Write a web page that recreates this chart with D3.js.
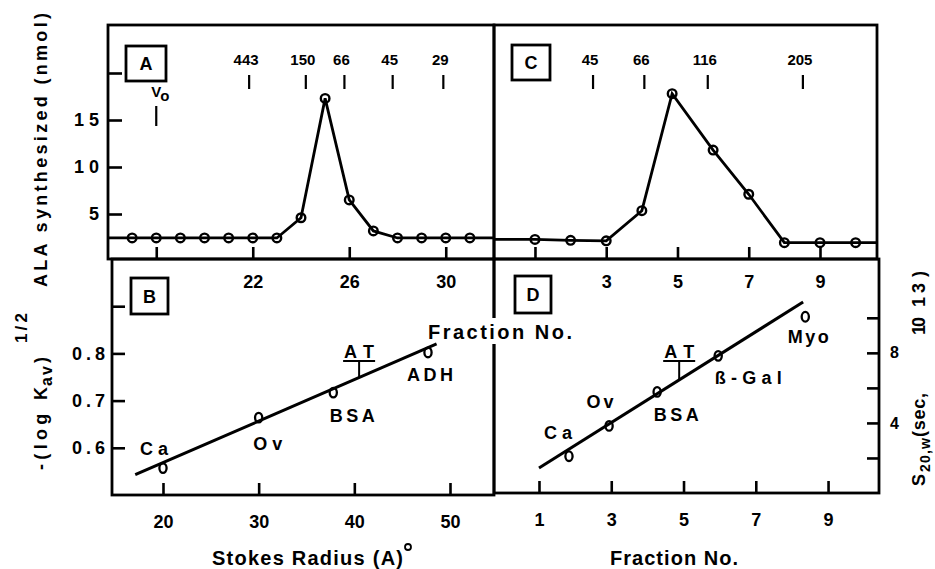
<!DOCTYPE html>
<html>
<head>
<meta charset="utf-8">
<script src="https://cdn.jsdelivr.net/npm/d3@7"></script>
<style>
  body { margin: 0; background: #fff; }
  text { font-family: 'Liberation Sans', Arial, sans-serif; font-weight: bold; fill: #000; }
</style>
</head>
<body>
<svg id="canvas"></svg>
<script>
// ---- panel A: ALA synthesized per fraction (gel filtration)
let fractionsA = [17, 18, 19, 20, 21, 22, 23, 24, 25, 26, 27, 28, 29, 30, 31]
let alaA = [2.45, 2.45, 2.45, 2.45, 2.45, 2.45, 2.45, 4.6, 17.3, 6.5, 3.2, 2.45, 2.45, 2.45, 2.45]
let markerPosA = [21.85, 24.2, 25.8, 27.8, 29.9]
let markerLabelsA = ['443', '150', '66', '45', '29']
let voFraction = 18
let ticksAy = [5, 10, 15, 20]
let tickLabelsAy = ['5', '1 0', '1 5', '']
let ticksAx = [18, 22, 26, 30]
let tickLabelsAx = ['', '22', '26', '30']

// ---- panel C: ALA synthesized per fraction (sucrose gradient)
let fractionsC = [1, 2, 3, 4, 4.85, 6, 7, 8, 9, 10]
let alaC = [2.3, 2.2, 2.15, 5.35, 17.8, 11.8, 7.1, 1.95, 1.95, 1.95]
let markerPosC = [2.63, 4.07, 5.85, 8.52]
let markerLabelsC = ['45', '66', '116', '205']
let ticksCx = [1, 3, 5, 7, 9]
let tickLabelsCx = ['', '3', '5', '7', '9']

// ---- panel B: -(log Kav)^1/2 vs Stokes radius
let stokesB = [20, 30, 37.8, 47.7]
let kavB = [0.557, 0.664, 0.717, 0.802]
let namesB = ['Ca', 'Ov', 'BSA', 'ADH']
let fitStokesB = [17.1, 48.6]
let fitKavB = [0.543, 0.820]
let atStokes = 40.5
let ticksBy = [0.6, 0.7, 0.8, 0.9]
let tickLabelsBy = ['0.6', '0.7', '0.8', '']
let ticksBx = [20, 30, 40, 50]

// ---- panel D: S20,w vs fraction
let fractionsD = [1.83, 2.94, 4.27, 5.96, 8.37]
let sedD = [2.1, 3.83, 5.77, 7.83, 10.06]
let namesD = ['Ca', 'Ov', 'BSA', 'ß-Gal', 'Myo']
let fitFractionD = [1.0, 8.31]
let fitSedD = [1.43, 10.9]
let atFraction = 4.88
let ticksDx = [1, 3, 5, 7, 9]
let ticksDy = [2, 4, 6, 8, 10]
let tickLabelsDy = ['', '4', '', '8', '']

// label placement (pixels relative to point) and widths
let offB = [[-9, -20], [9, 26], [19, 23], [2, 22]]
let widB = [28, 29, 45, 46]
let offD = [[-11, -24], [-9, -24], [19, 23], [30, 22], [3, 20]]
let widD = [28, 27, 45, 67, 41]

let width = 935
let height = 569
let canvas = d3.select('#canvas').attr('width', width).attr('height', height)

let xA = d3.scaleLinear().domain([16, 32]).range([108, 494])
let yA = d3.scaleLinear().domain([0, 20]).range([261, 73])
let xC = d3.scaleLinear().domain([-0.15, 10.6]).range([494, 877])
let xB = d3.scaleLinear().domain([14.67, 54.6]).range([112, 494])
let yB = d3.scaleLinear().domain([0.5, 1.0]).range([495, 259])
let xD = d3.scaleLinear().domain([-0.245, 10.41]).range([494, 879])
let yD = d3.scaleLinear().domain([0, 13.3]).range([493, 260])

let frame = (x0, y0, x1, y1) => {
    canvas.append('rect')
        .attr('x', x0).attr('y', y0)
        .attr('width', x1 - x0).attr('height', y1 - y0)
        .attr('fill', 'none').attr('stroke', '#000').attr('stroke-width', 2.8)
}

let styleAxis = (g, size) => {
    g.select('.domain').remove()
    g.attr('font-family', null).attr('font-size', size).attr('font-weight', 'bold')
    g.selectAll('line').attr('stroke-width', 2.6)
}

let drawFrames = () => {
    frame(108, 25, 494, 259)
    frame(494, 25, 877, 259)
    frame(112, 259, 494, 495)
    frame(494, 259, 879, 493)
}

let drawAxes = () => {
    let axAy = d3.axisLeft(yA).tickValues(ticksAy)
        .tickFormat((d, i) => tickLabelsAy[i]).tickSize(-14).tickSizeOuter(0).tickPadding(9)
    canvas.append('g').attr('transform', 'translate(108,0)').call(axAy).call(g => styleAxis(g, 18))

    let axAx = d3.axisBottom(xA).tickValues(ticksAx)
        .tickFormat((d, i) => tickLabelsAx[i]).tickSize(-12).tickSizeOuter(0).tickPadding(16)
    canvas.append('g').attr('transform', 'translate(0,259)').call(axAx).call(g => styleAxis(g, 18))

    let axCx = d3.axisBottom(xC).tickValues(ticksCx)
        .tickFormat((d, i) => tickLabelsCx[i]).tickSize(-12).tickSizeOuter(0).tickPadding(16)
    canvas.append('g').attr('transform', 'translate(0,259)').call(axCx).call(g => styleAxis(g, 18))

    let axBy = d3.axisLeft(yB).tickValues(ticksBy)
        .tickFormat((d, i) => tickLabelsBy[i]).tickSize(-13).tickSizeOuter(0).tickPadding(3)
    canvas.append('g').attr('transform', 'translate(112,0)').call(axBy)
        .call(g => styleAxis(g, 18))
        .selectAll('text').attr('letter-spacing', 4)

    let axBx = d3.axisBottom(xB).tickValues(ticksBx)
        .tickFormat(d => d).tickSize(-12).tickSizeOuter(0).tickPadding(20)
    canvas.append('g').attr('transform', 'translate(0,495)').call(axBx).call(g => styleAxis(g, 18))

    let axDx = d3.axisBottom(xD).tickValues(ticksDx)
        .tickFormat(d => d).tickSize(-12).tickSizeOuter(0).tickPadding(20)
    canvas.append('g').attr('transform', 'translate(0,493)').call(axDx).call(g => styleAxis(g, 18))

    let axDy = d3.axisRight(yD).tickValues(ticksDy)
        .tickFormat((d, i) => tickLabelsDy[i]).tickSize(-12).tickSizeOuter(0).tickPadding(11)
    canvas.append('g').attr('transform', 'translate(879,0)').call(axDy).call(g => styleAxis(g, 16))
}

let drawProfile = (xs, fr, vals) => {
    let pts = fr.map((f, i) => [f, vals[i]])
    let dom = xs.domain()
    let full = [[dom[0], vals[0]]].concat(pts, [[dom[1], vals[vals.length - 1]]])
    canvas.append('path')
        .attr('d', d3.line().x(d => xs(d[0])).y(d => yA(d[1]))(full))
        .attr('fill', 'none').attr('stroke', '#000').attr('stroke-width', 2.8)
    canvas.append('g').selectAll('circle')
        .data(pts).enter().append('circle')
        .attr('cx', d => xs(d[0])).attr('cy', d => yA(d[1]))
        .attr('r', 4.3)
        .attr('fill', 'none').attr('stroke', '#000').attr('stroke-width', 2.4)
}

let drawMarkers = (xs, pos, labels) => {
    let g = canvas.append('g')
    g.selectAll('line').data(pos).enter().append('line')
        .attr('x1', d => xs(d)).attr('x2', d => xs(d))
        .attr('y1', 75).attr('y2', 89)
        .attr('stroke', '#000').attr('stroke-width', 2.2)
    g.selectAll('text').data(pos).enter().append('text')
        .attr('x', d => xs(d) - 3).attr('y', 65)
        .attr('text-anchor', 'middle').attr('font-size', 15)
        .text((d, i) => labels[i])
}

let drawVo = () => {
    let x = xA(voFraction)
    canvas.append('line').attr('x1', x).attr('x2', x).attr('y1', 106).attr('y2', 126)
        .attr('stroke', '#000').attr('stroke-width', 2.2)
    let t = canvas.append('text').attr('x', x - 5).attr('y', 97).attr('font-size', 15)
    t.append('tspan').text('V')
    t.append('tspan').attr('dy', 4).text('o')
}

let panelBox = (x0, y0, x1, y1, letter) => {
    frame(x0, y0, x1, y1)
    canvas.append('text')
        .attr('x', (x0 + x1) / 2).attr('y', (y0 + y1) / 2 + 6.5)
        .attr('text-anchor', 'middle').attr('font-size', 18)
        .text(letter)
}

let drawCalibration = (xs, ys, xv, yv, names, fitX, fitY, atX, off, wid) => {
    canvas.append('line')
        .attr('x1', xs(fitX[0])).attr('y1', ys(fitY[0]))
        .attr('x2', xs(fitX[1])).attr('y2', ys(fitY[1]))
        .attr('stroke', '#000').attr('stroke-width', 3)
    canvas.append('g').selectAll('ellipse')
        .data(xv).enter().append('ellipse')
        .attr('cx', d => xs(d)).attr('cy', (d, i) => ys(yv[i]))
        .attr('rx', 3.6).attr('ry', 4.8)
        .attr('fill', 'none').attr('stroke', '#000').attr('stroke-width', 2.3)
    canvas.append('g').selectAll('text')
        .data(names).enter().append('text')
        .attr('x', (d, i) => xs(xv[i]) + off[i][0])
        .attr('y', (d, i) => ys(yv[i]) + off[i][1] + 6.5)
        .attr('text-anchor', 'middle').attr('font-size', 18)
        .attr('textLength', (d, i) => wid[i]).attr('lengthAdjust', 'spacing')
        .text(d => d)
    // AT marker
    let ax = xs(atX)
    let t = (atX - fitX[0]) / (fitX[1] - fitX[0])
    let lineY = ys(fitY[0] + t * (fitY[1] - fitY[0]))
    canvas.append('text').attr('x', ax).attr('y', 358)
        .attr('text-anchor', 'middle').attr('font-size', 18)
        .attr('textLength', 30).attr('lengthAdjust', 'spacing').text('AT')
    canvas.append('line').attr('x1', ax - 16).attr('x2', ax + 16).attr('y1', 361).attr('y2', 361)
        .attr('stroke', '#000').attr('stroke-width', 2)
    canvas.append('line').attr('x1', ax).attr('x2', ax).attr('y1', 361).attr('y2', lineY)
        .attr('stroke', '#000').attr('stroke-width', 2)
}

// rotated text piece, read bottom to top
let vtext = (str, bx, yBottom, yTop, size) => {
    canvas.append('text')
        .attr('transform', 'translate(' + bx + ',' + yBottom + ') rotate(-90)')
        .attr('font-size', size)
        .attr('textLength', yBottom - yTop).attr('lengthAdjust', 'spacing')
        .text(str)
}

let htext = (str, x0, x1, y, size) => {
    return canvas.append('text')
        .attr('x', x0).attr('y', y).attr('font-size', size)
        .attr('textLength', x1 - x0).attr('lengthAdjust', 'spacing')
        .text(str)
}

let drawTitles = () => {
    vtext('ALA synthesized (nmol)', 47, 287, 13, 18)

    vtext('-(log K', 47, 470, 387, 18)
    vtext('av', 52, 386, 366, 16)
    vtext(')', 47, 363, 355, 18)
    vtext('1/2', 27, 343, 313, 17)

    vtext('S', 925, 486, 471, 18)
    vtext('20,w', 930, 472, 438, 14)
    vtext('(sec,', 925, 437, 393, 18)
    vtext('10', 925, 335, 317, 18)
    vtext('13', 925, 307, 283, 18)
    vtext(')', 925, 277, 264, 18)

    htext('Stokes Radius (A)', 212, 403, 565, 20)
    canvas.append('circle').attr('cx', 408).attr('cy', 547).attr('r', 3)
        .attr('fill', 'none').attr('stroke', '#000').attr('stroke-width', 1.8)

    htext('Fraction No.', 610, 738, 565, 20)

    canvas.append('rect').attr('x', 486).attr('y', 318).attr('width', 14).attr('height', 26).attr('fill', '#fff')
    htext('Fraction No.', 428, 572, 339, 20)
}

drawFrames()
drawAxes()
drawProfile(xA, fractionsA, alaA)
drawProfile(xC, fractionsC, alaC)
drawMarkers(xA, markerPosA, markerLabelsA)
drawMarkers(xC, markerPosC, markerLabelsC)
drawVo()
panelBox(126, 46, 166, 81, 'A')
panelBox(512, 45, 550, 80, 'C')
panelBox(131, 278, 168, 314, 'B')
panelBox(515, 276, 551, 313, 'D')
drawCalibration(xB, yB, stokesB, kavB, namesB, fitStokesB, fitKavB, atStokes, offB, widB)
drawCalibration(xD, yD, fractionsD, sedD, namesD, fitFractionD, fitSedD, atFraction, offD, widD)
drawTitles()
</script>
</body>
</html>
